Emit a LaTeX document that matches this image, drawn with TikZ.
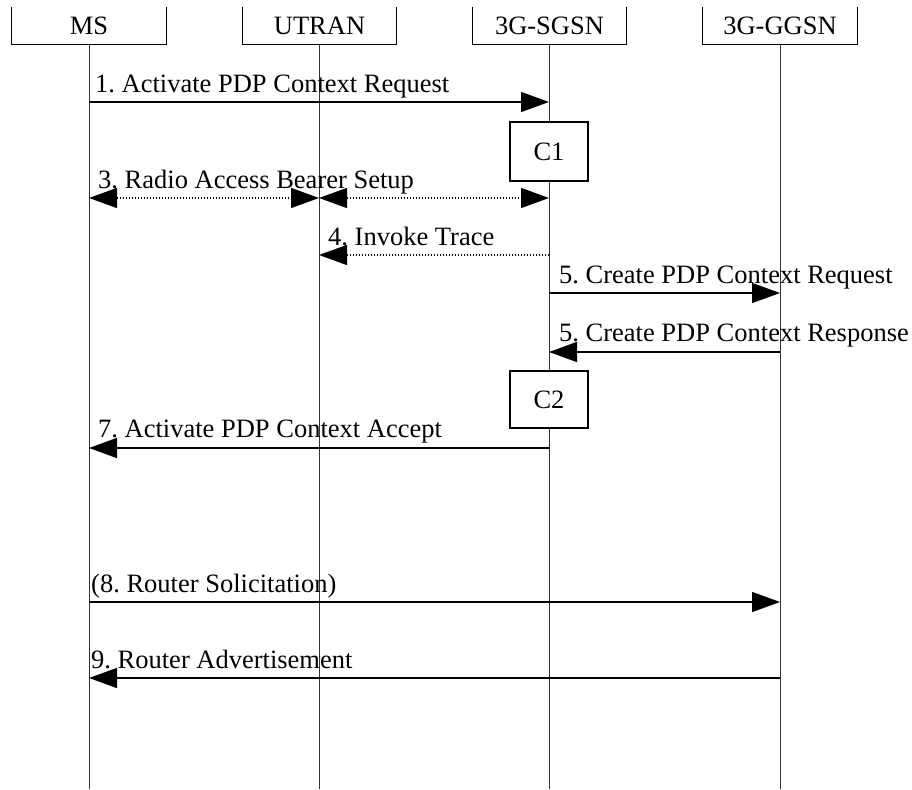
\documentclass[tikz,border=0pt]{standalone}
\usepackage{fontspec}
\setmainfont{Liberation Serif}
\usetikzlibrary{arrows.meta}
\frenchspacing
\begin{document}
\begin{tikzpicture}[x=1pt,y=-1pt,
  every node/.style={font=\fontsize{26.5}{30}\selectfont, inner sep=0pt},
  head/.style={minimum width=154pt, minimum height=37pt},
  hbox/.style={line width=1.3pt},
  life/.style={line width=0.9pt, black!80},
  proc/.style={draw, line width=1.3pt, fill=white, minimum width=78pt},
  msg/.style={line width=1.5pt, -{Triangle[length=28pt,width=20pt]}},
  msgd/.style={line width=1.2pt, dash pattern=on 1.2pt off 1.8pt, -{Triangle[length=28pt,width=20pt]}},
  msgdd/.style={line width=1.2pt, dash pattern=on 1.2pt off 1.8pt, {Triangle[length=28pt,width=20pt]}-{Triangle[length=28pt,width=20pt]}},
  lbl/.style={anchor=base west}]
\useasboundingbox (0,0) rectangle (912,789);
% headers
\node[head] (ms) at (89,25.5) {MS};
\node[head] (utran) at (319.5,25.5) {UTRAN};
\node[head] (sgsn) at (549.5,25.5) {3G-SGSN};
\node[head] (ggsn) at (780,25.5) {3G-GGSN};
\foreach \n in {ms,utran,sgsn,ggsn}{
  \draw[hbox] (\n.north west) -- (\n.south west) -- (\n.south east) -- (\n.north east);
}
% lifeline ends
\coordinate (msb) at (89,789);
\coordinate (utranb) at (319,789);
\coordinate (sgsnb) at (549,789);
\coordinate (ggsnb) at (780,789);
\draw[life] (ms.south -| msb) -- (msb);
\draw[life] (utran.south -| utranb) -- (utranb);
\draw[life] (sgsn.south -| sgsnb) -- (sgsnb);
\draw[life] (ggsn.south -| ggsnb) -- (ggsnb);
% process boxes
\node[proc, minimum height=59pt] (c1) at (549,151.5) {C1};
\node[proc, minimum height=57pt] (c2) at (549,399.5) {C2};
% message points
\coordinate (m1a) at (89,102);  \coordinate (m1b) at (549,102);
\coordinate (m3a) at (89,198);  \coordinate (m3b) at (319,198); \coordinate (m3c) at (549,198);
\coordinate (m4a) at (549,255); \coordinate (m4b) at (319,255);
\coordinate (m5a) at (549,293); \coordinate (m5b) at (780,293);
\coordinate (m6a) at (780,352); \coordinate (m6b) at (549,352);
\coordinate (m7a) at (549,448); \coordinate (m7b) at (89,448);
\coordinate (m8a) at (89,602);  \coordinate (m8b) at (780,602);
\coordinate (m9a) at (780,678); \coordinate (m9b) at (89,678);
% messages
\draw[msg] (m1a) -- (m1b);
\node[lbl] (l1) at (95,93) {1. Activate PDP Context Request};
\draw[msgdd] (m3a) -- (m3b);
\draw[msgdd] (m3b) -- (m3c);
\node[lbl] (l3) at (98,188) {3. Radio Access Bearer Setup};
\draw[msgd] (m4a) -- (m4b);
\node[lbl] (l4) at (328,245) {4. Invoke Trace};
\draw[msg] (m5a) -- (m5b);
\node[lbl] (l5) at (559,283) {5. Create PDP Context Request};
\draw[msg] (m6a) -- (m6b);
\node[lbl] (l6) at (559,341) {5. Create PDP Context Response};
\draw[msg] (m7a) -- (m7b);
\node[lbl] (l7) at (98,437) {7. Activate PDP Context Accept};
\draw[msg] (m8a) -- (m8b);
\node[lbl] (l8) at (91,592) {(8. Router Solicitation)};
\draw[msg] (m9a) -- (m9b);
\node[lbl] (l9) at (91,668) {9. Router Advertisement};
\end{tikzpicture}
\end{document}
